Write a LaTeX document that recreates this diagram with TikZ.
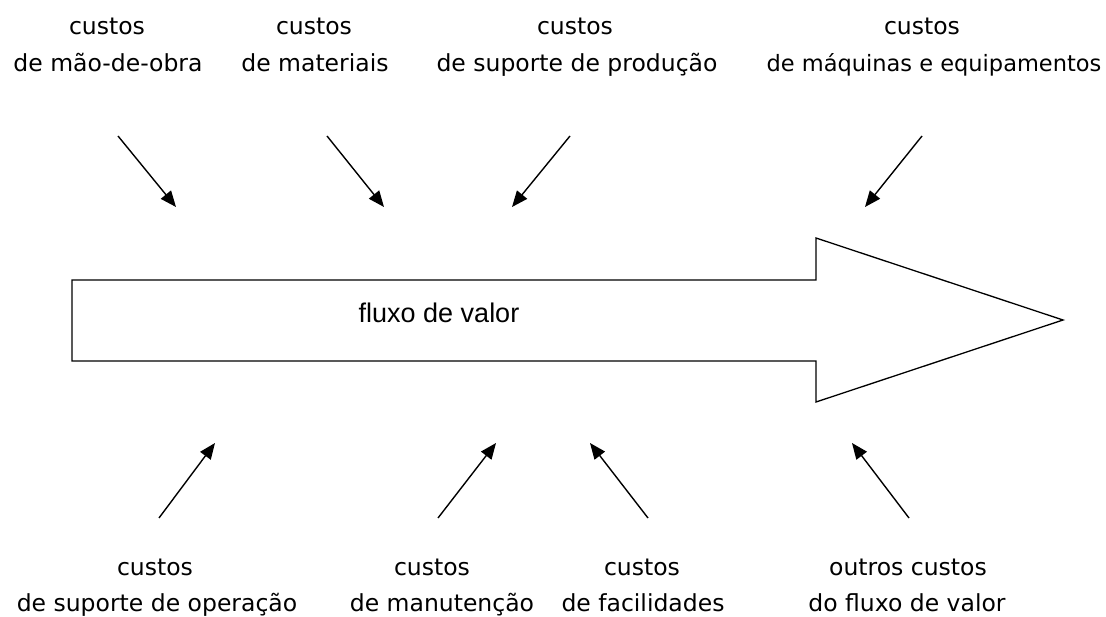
\documentclass[tikz,border=0pt]{standalone}
\usepackage{fontspec}
\setmainfont{DejaVu Sans}
\newfontfamily\arialfont{Liberation Sans}
\usetikzlibrary{arrows.meta}
\tikzset{
  lbl/.style={anchor=base, inner sep=0pt, font=\fontsize{23.5}{28}\selectfont},
  lblwide/.style={lbl, font=\fontsize{22.5}{27}\selectfont},
  costarrow/.style={line width=1.4pt, -{Triangle[length=16pt,width=13pt]}},
  bigarrow/.style={draw=black, line width=1.3pt, line join=miter, fill=white}
}
\begin{document}
\begin{tikzpicture}[x=1pt,y=-1pt]
\useasboundingbox (0,0) rectangle (1106,617);
% big arrow
\draw[bigarrow] (72,280) -- (816,280) -- (816,238) -- (1063,320) -- (816,402) -- (816,361) -- (72,361) -- cycle;
\node[anchor=base, inner sep=0pt, font=\arialfont\fontsize{27}{32}\selectfont] (fv) at (439,323) {fluxo de valor};
% top labels
\node[lbl] (t1a) at (107,35) {custos};
\node[lbl] (t1b) at (108,72) {de mão-de-obra};
\node[lbl] (t2a) at (314,35) {custos};
\node[lbl] (t2b) at (315,72) {de materiais};
\node[lbl] (t3a) at (575,35) {custos};
\node[lbl] (t3b) at (577,72) {de suporte de produção};
\node[lbl] (t4a) at (922,35) {custos};
\node[lblwide] (t4b) at (934,72) {de máquinas e equipamentos};
% bottom labels
\node[lbl] (b1a) at (155,575) {custos};
\node[lbl] (b1b) at (157,611) {de suporte de operação};
\node[lbl] (b2a) at (432,575) {custos};
\node[lbl] (b2b) at (442,611) {de manutenção};
\node[lbl] (b3a) at (642,575) {custos};
\node[lbl] (b3b) at (643,611) {de facilidades};
\node[lbl] (b4a) at (908,575) {outros custos};
\node[lbl] (b4b) at (907,611) {do fluxo de valor};
% arrow end points
\coordinate (s1) at (118,136); \coordinate (e1) at (176,207);
\coordinate (s2) at (327,136); \coordinate (e2) at (384,207);
\coordinate (s3) at (570,136); \coordinate (e3) at (512,207);
\coordinate (s4) at (922,136); \coordinate (e4) at (865,207);
\coordinate (u1) at (159,518); \coordinate (f1) at (215,443);
\coordinate (u2) at (438,518); \coordinate (f2) at (496,443);
\coordinate (u3) at (648,518); \coordinate (f3) at (590,443);
\coordinate (u4) at (909,518); \coordinate (f4) at (852,443);
\foreach \i in {1,2,3,4} {
  \draw[costarrow] (s\i) -- (e\i);
  \draw[costarrow] (u\i) -- (f\i);
}
\end{tikzpicture}
\end{document}
